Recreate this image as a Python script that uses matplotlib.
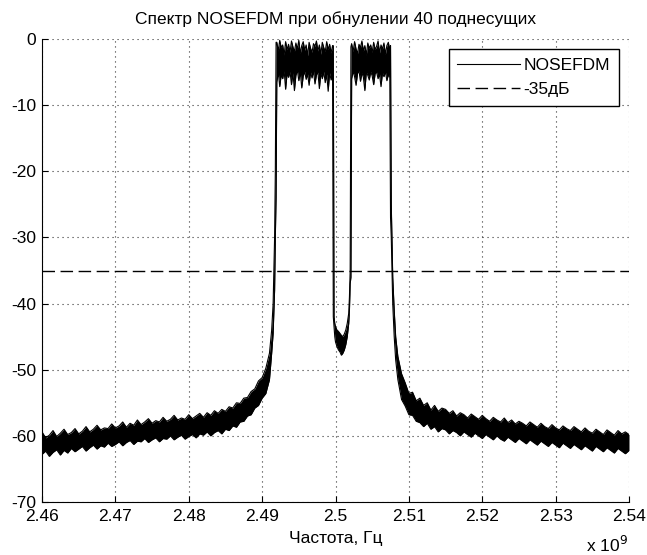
import matplotlib
matplotlib.use("Agg")
import matplotlib.pyplot as plt
from matplotlib.ticker import FuncFormatter

plt.rcParams['font.family'] = ['Liberation Sans', 'DejaVu Sans']

# spectrum envelope: frequency (GHz), upper / lower edge of the noisy trace (dB)
freq_ghz = [
    2.4600, 2.4605, 2.4610, 2.4615, 2.4620, 2.4625, 2.4630, 2.4635, 2.4640, 2.4645,
    2.4650, 2.4655, 2.4660, 2.4665, 2.4670, 2.4675, 2.4680, 2.4685, 2.4690, 2.4695,
    2.4700, 2.4705, 2.4710, 2.4715, 2.4720, 2.4725, 2.4730, 2.4735, 2.4740, 2.4745,
    2.4750, 2.4755, 2.4760, 2.4765, 2.4770, 2.4775, 2.4780, 2.4785, 2.4790, 2.4795,
    2.4800, 2.4805, 2.4810, 2.4815, 2.4820, 2.4825, 2.4830, 2.4835, 2.4840, 2.4845,
    2.4850, 2.4855, 2.4860, 2.4865, 2.4870, 2.4875, 2.4880, 2.4885, 2.4890, 2.4895,
    2.4900, 2.4905, 2.4910, 2.4913, 2.4915, 2.4917, 2.4918, 2.4919,
    # first band
    2.4920, 2.4922, 2.4924, 2.4926, 2.4928, 2.4930, 2.4932, 2.4934, 2.4936, 2.4938,
    2.4940, 2.4942, 2.4944, 2.4946, 2.4948, 2.4950, 2.4952, 2.4954, 2.4956, 2.4958,
    2.4960, 2.4962, 2.4964, 2.4966, 2.4968, 2.4970, 2.4972, 2.4974, 2.4976, 2.4978,
    2.4980, 2.4982, 2.4984, 2.4986, 2.4988, 2.4990, 2.4992, 2.4994, 2.4996,
    # nulled subcarriers
    2.4997, 2.4998, 2.4999, 2.5000, 2.5002, 2.5004, 2.5006, 2.5008, 2.5010, 2.5012,
    2.5014, 2.5016, 2.5018, 2.5019, 2.5020, 2.5021,
    # second band
    2.5022, 2.5024, 2.5026, 2.5028, 2.5030, 2.5032, 2.5034, 2.5036, 2.5038, 2.5040,
    2.5042, 2.5044, 2.5046, 2.5048, 2.5050, 2.5052, 2.5054, 2.5056, 2.5058, 2.5060,
    2.5062, 2.5064, 2.5066, 2.5068, 2.5070, 2.5072, 2.5074,
    # right tail
    2.5075, 2.5076, 2.5078, 2.5080, 2.5082, 2.5085, 2.5090,
    2.5095, 2.5100, 2.5105, 2.5110, 2.5115, 2.5120, 2.5125, 2.5130, 2.5135, 2.5140,
    2.5145, 2.5150, 2.5155, 2.5160, 2.5165, 2.5170, 2.5175, 2.5180, 2.5185, 2.5190,
    2.5195, 2.5200, 2.5205, 2.5210, 2.5215, 2.5220, 2.5225, 2.5230, 2.5235, 2.5240,
    2.5245, 2.5250, 2.5255, 2.5260, 2.5265, 2.5270, 2.5275, 2.5280, 2.5285, 2.5290,
    2.5295, 2.5300, 2.5305, 2.5310, 2.5315, 2.5320, 2.5325, 2.5330, 2.5335, 2.5340,
    2.5345, 2.5350, 2.5355, 2.5360, 2.5365, 2.5370, 2.5375, 2.5380, 2.5385, 2.5390,
    2.5395, 2.5400,
]

upper_db = [
    -59.4, -60.3, -59.9, -59.2, -60.1, -59.6, -59.0, -59.8, -59.5, -58.9,
    -59.7, -59.3, -58.6, -59.4, -59.0, -58.4, -59.1, -58.8, -58.9, -58.2,
    -58.8, -58.5, -57.9, -58.7, -58.1, -58.4, -57.6, -58.3, -57.9, -57.4,
    -58.1, -57.7, -57.9, -57.2, -57.8, -57.5, -56.9, -57.6, -57.3, -57.5,
    -56.8, -57.4, -57.0, -56.6, -57.2, -56.5, -56.9, -56.2, -56.6, -56.0,
    -56.3, -55.6, -55.8, -55.0, -55.1, -54.3, -54.2, -53.3, -52.9, -51.7,
    -51.2, -49.8, -47.5, -44.0, -40.0, -30.0, -20.0, -0.5,
    -0.5, -1.8, -0.2, -1.3, -0.9, -2.4, -0.4, -1.6, -0.8, -2.0,
    -0.3, -1.2, -1.9, -0.6, -1.5, -0.2, -2.2, -1.0, -0.4, -1.7,
    -0.9, -2.5, -0.5, -1.4, -2.0, -0.7, -1.1, -0.3, -1.8, -0.9,
    -2.3, -0.5, -1.3, -1.9, -0.4, -1.6, -0.8, -2.1, -1.0,
    -1.0, -42.0, -43.0, -43.5, -44.0, -44.2, -44.5, -44.8, -45.0, -44.6,
    -44.0, -43.0, -41.5, -39.0, -35.0, -1.2,
    -0.7, -1.9, -0.4, -1.5, -2.2, -0.8, -1.3, -0.3, -1.8, -1.0,
    -2.4, -0.6, -1.4, -0.9, -2.0, -0.5, -1.6, -1.1, -0.3, -2.1,
    -0.9, -1.5, -0.6, -2.3, -1.0, -0.5, -1.7,
    -1.0, -25.0, -36.0, -41.0, -45.0, -48.0, -50.6,
    -52.0, -53.6, -53.4, -54.7, -54.3, -55.4, -55.0, -56.1, -55.4, -56.3,
    -55.8, -56.0, -56.6, -56.2, -57.0, -56.5, -56.8, -57.3, -56.7, -57.1,
    -57.5, -56.9, -57.4, -57.8, -57.2, -57.6, -57.9, -57.3, -58.0, -57.6,
    -58.2, -57.8, -58.1, -58.5, -57.9, -58.3, -58.7, -58.1, -58.6, -58.9,
    -58.3, -58.8, -59.1, -58.5, -58.9, -59.2, -58.6, -59.0, -59.4, -58.8,
    -59.3, -59.6, -59.0, -59.4, -59.8, -59.1, -59.5, -59.9, -59.2, -59.7,
    -59.4, -59.8,
]

lower_db = [
    -62.8, -62.3, -63.1, -62.5, -62.1, -62.9, -62.2, -62.6, -61.9, -62.4,
    -62.0, -61.6, -62.3, -61.8, -61.4, -62.0, -61.5, -61.7, -61.1, -61.6,
    -61.3, -60.9, -61.5, -61.0, -60.7, -61.3, -60.8, -60.9, -60.4, -61.0,
    -60.6, -60.3, -60.9, -60.4, -60.5, -60.0, -60.6, -60.2, -59.9, -60.5,
    -60.1, -59.8, -60.3, -59.7, -59.9, -59.4, -60.0, -59.5, -59.2, -59.7,
    -59.0, -59.2, -58.5, -58.7, -57.9, -57.8, -57.0, -56.8, -55.8, -55.4,
    -54.3, -53.6, -51.5, -47.5, -44.5, -38.0, -30.0, -24.0,
    -6.5, -5.0, -7.2, -5.4, -6.0, -4.8, -7.6, -5.2, -5.8, -4.9,
    -6.9, -5.1, -7.8, -5.5, -4.7, -6.3, -5.0, -7.4, -5.6, -4.9,
    -6.1, -5.3, -7.0, -5.0, -5.9, -4.8, -6.8, -5.4, -5.0, -7.5,
    -5.2, -6.0, -4.9, -6.6, -5.3, -7.9, -5.1, -6.2, -5.5,
    -42.0, -43.5, -45.0, -45.8, -46.5, -47.0, -47.3, -47.8, -47.5, -47.0,
    -46.2, -45.0, -43.0, -41.0, -37.0, -36.0,
    -6.0, -4.9, -5.7, -7.0, -5.2, -4.8, -6.4, -5.1, -5.8, -7.8,
    -5.0, -5.5, -6.2, -4.9, -5.6, -6.9, -5.2, -5.0, -6.0, -5.3,
    -7.2, -5.1, -5.7, -4.9, -6.3, -5.4, -5.8,
    -27.0, -30.0, -40.0, -45.0, -48.5, -51.5, -54.5,
    -55.5, -56.8, -56.9, -57.8, -58.0, -58.6, -58.1, -59.0, -58.6, -59.4,
    -58.9, -59.1, -59.7, -59.2, -59.5, -60.0, -59.4, -59.8, -60.2, -59.6,
    -60.0, -60.4, -59.8, -60.2, -60.6, -60.0, -60.5, -60.8, -60.2, -60.6,
    -61.0, -60.4, -60.8, -61.2, -60.6, -61.0, -61.4, -60.8, -61.2, -61.6,
    -61.0, -61.4, -61.8, -61.1, -61.5, -61.9, -61.3, -61.7, -62.1, -61.5,
    -61.9, -62.3, -61.6, -62.0, -62.4, -61.8, -62.2, -62.6, -61.9, -62.3,
    -62.7, -62.2,
]

threshold_db = -35

fig = plt.figure(figsize=(6.47, 5.55), dpi=100)
ax = fig.add_axes([42 / 647, 1 - 502 / 555, 587 / 647, 463 / 555])

ax.fill_between(freq_ghz, lower_db, upper_db, color='k', lw=0)
ax.plot(freq_ghz, upper_db, color='k', lw=0.8, label='NOSEFDM')
ax.plot(freq_ghz, lower_db, color='k', lw=0.8)
ax.axhline(threshold_db, color='k', lw=1.0, dashes=(9, 4), label='-35дБ')

ax.set_xlim(2.46, 2.54)
ax.set_ylim(-70, 0)
ax.set_xticks([2.46, 2.47, 2.48, 2.49, 2.50, 2.51, 2.52, 2.53, 2.54])
ax.set_yticks([0, -10, -20, -30, -40, -50, -60, -70])
fmt = FuncFormatter(lambda v, p: '%g' % round(v, 4))
ax.xaxis.set_major_formatter(fmt)
ax.yaxis.set_major_formatter(fmt)
ax.tick_params(direction='in', length=4, labelsize=12.5, top=False, right=False)
ax.tick_params(axis='x', pad=5)
ax.tick_params(axis='y', pad=4)

ax.spines['top'].set_visible(False)
ax.spines['right'].set_visible(False)
ax.grid(True, color='k', lw=0.8, linestyle=(0, (1, 3.5)), alpha=0.8)

ax.set_title('Спектр NOSEFDM при обнулении 40 поднесущих', fontsize=12.5, pad=11)
ax.set_xlabel('Частота, Гц', fontsize=12.5, labelpad=5)
ax.text(0.962, -0.093, r'x 10$^{9}$', transform=ax.transAxes, fontsize=12.5, ha='center', va='center')

leg = ax.legend(loc='upper right', fontsize=12.5, fancybox=False, framealpha=1,
                edgecolor='k', handlelength=3.6, borderaxespad=0.6, handletextpad=0.2,
                labelspacing=0.5, borderpad=0.5)
leg.get_frame().set_linewidth(1.0)

fig.savefig('out.png', dpi=100)
